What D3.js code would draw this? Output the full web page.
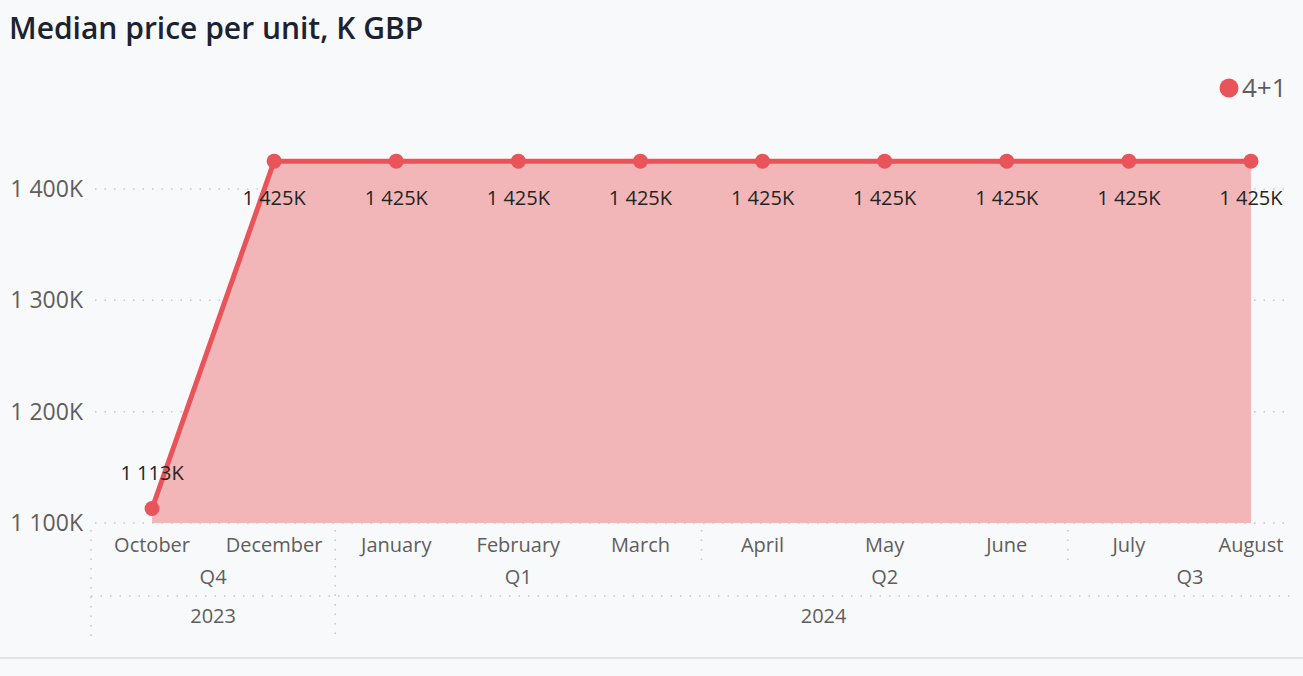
<!DOCTYPE html>
<html>
<head>
<meta charset="utf-8">
<script src="https://cdn.jsdelivr.net/npm/d3@7"></script>
<style>
  body { margin: 0; background: #f8f9fb; }
  svg { display: block; font-family: "Open Sans", "Noto Sans", sans-serif; }
</style>
</head>
<body>
<div id="chart"></div>
<script>
var months = ['October', 'December', 'January', 'February', 'March', 'April', 'May', 'June', 'July', 'August'];
var quarters = ['Q4', 'Q4', 'Q1', 'Q1', 'Q1', 'Q2', 'Q2', 'Q2', 'Q3', 'Q3'];
var years = ['2023', '2023', '2024', '2024', '2024', '2024', '2024', '2024', '2024', '2024'];
var prices = [1113, 1425, 1425, 1425, 1425, 1425, 1425, 1425, 1425, 1425];
var yTicks = [1100, 1200, 1300, 1400];
var seriesName = '4+1';

var width = 1303;
var height = 676;
var red = '#e9545a';
var grey = '#605e5c';

var svg = d3.select('#chart')
    .append('svg')
    .attr('width', width)
    .attr('height', height);

svg.append('rect')
    .attr('width', width)
    .attr('height', height)
    .attr('fill', '#f8f9fb');

svg.append('text')
    .attr('x', 9)
    .attr('y', 39)
    .attr('font-size', 30)
    .attr('font-weight', 600)
    .attr('fill', '#1b2230')
    .text('Median price per unit, K GBP');

var x = d3.scaleBand()
    .domain(months)
    .range([91, 1312]);

var y = d3.scaleLinear()
    .domain([1100, 1400])
    .range([523, 189]);

var fmt = function(v) { return '1 ' + String(v).slice(1) + 'K'; };

// gridlines
svg.selectAll('.grid')
    .data(yTicks)
    .enter()
    .append('line')
    .attr('x1', 95)
    .attr('x2', 1290)
    .attr('y1', function(d) { return y(d); })
    .attr('y2', function(d) { return y(d); })
    .attr('stroke', '#c8c6c4')
    .attr('stroke-width', 1.5)
    .attr('stroke-dasharray', '1.5,8');

// y axis labels
svg.selectAll('.ylab')
    .data(yTicks)
    .enter()
    .append('text')
    .attr('x', 83)
    .attr('y', function(d) { return y(d); })
    .attr('dy', '0.35em')
    .attr('text-anchor', 'end')
    .attr('font-size', 23)
    .attr('fill', grey)
    .text(fmt);

var cx = function(d, i) { return x(months[i]) + x.bandwidth() / 2; };

var area = d3.area()
    .x(cx)
    .y0(y(1100))
    .y1(function(d) { return y(d); });

svg.append('path')
    .datum(prices)
    .attr('d', area)
    .attr('fill', '#f3b6b8');

var line = d3.line()
    .x(cx)
    .y(function(d) { return y(d); });

svg.append('path')
    .datum(prices)
    .attr('d', line)
    .attr('fill', 'none')
    .attr('stroke', red)
    .attr('stroke-width', 5)
    .attr('stroke-linejoin', 'round');

svg.selectAll('.dot')
    .data(prices)
    .enter()
    .append('circle')
    .attr('cx', cx)
    .attr('cy', function(d) { return y(d); })
    .attr('r', 7.5)
    .attr('fill', red);

// data labels
svg.selectAll('.dlab')
    .data(prices)
    .enter()
    .append('text')
    .attr('x', cx)
    .attr('y', function(d, i) { return i === 0 ? y(d) - 36 : y(d) + 37; })
    .attr('dy', '0.35em')
    .attr('text-anchor', 'middle')
    .attr('font-size', 20)
    .attr('fill', '#252423')
    .text(fmt);

// month labels
svg.selectAll('.mlab')
    .data(months)
    .enter()
    .append('text')
    .attr('x', function(d) { return x(d) + x.bandwidth() / 2; })
    .attr('y', 545)
    .attr('dy', '0.35em')
    .attr('text-anchor', 'middle')
    .attr('font-size', 20)
    .attr('fill', grey)
    .text(function(d) { return d; });

// group spans for quarters and years
function groups(keys) {
    var out = [];
    keys.forEach(function(k, i) {
        var last = out[out.length - 1];
        if (last && last.key === k) last.end = i;
        else out.push({ key: k, start: i, end: i });
    });
    return out.map(function(g) {
        return { key: g.key, x0: x(months[g.start]), x1: x(months[g.end]) + x.bandwidth() };
    });
}

var qGroups = groups(quarters.map(function(q, i) { return years[i] + q; }));
var yGroups = groups(years);

var dotted = { stroke: '#c8c6c4', 'stroke-width': 1.5, 'stroke-dasharray': '1.5,8' };

function dline(x1, y1, x2, y2) {
    var l = svg.append('line')
        .attr('x1', x1).attr('y1', y1).attr('x2', x2).attr('y2', y2);
    for (var k in dotted) l.attr(k, dotted[k]);
}

qGroups.forEach(function(g, i) {
    svg.append('text')
        .attr('x', (g.x0 + g.x1) / 2)
        .attr('y', 577)
        .attr('dy', '0.35em')
        .attr('text-anchor', 'middle')
        .attr('font-size', 20)
        .attr('fill', grey)
        .text(g.key.slice(4));
    if (i > 0) dline(g.x0, 530, g.x0, 566);
});

dline(91, 530, 91, 637);
dline(91, 596, 1290, 596);

yGroups.forEach(function(g, i) {
    svg.append('text')
        .attr('x', (g.x0 + g.x1) / 2)
        .attr('y', 616)
        .attr('dy', '0.35em')
        .attr('text-anchor', 'middle')
        .attr('font-size', 20)
        .attr('fill', grey)
        .text(g.key);
    if (i > 0) dline(g.x0, 566, g.x0, 637);
});

// legend
svg.append('circle')
    .attr('cx', 1229)
    .attr('cy', 88)
    .attr('r', 9.5)
    .attr('fill', red);

svg.append('text')
    .attr('x', 1242)
    .attr('y', 88)
    .attr('dy', '0.35em')
    .attr('font-size', 26)
    .attr('fill', grey)
    .text(seriesName);

// bottom border
svg.append('line')
    .attr('x1', 0)
    .attr('x2', width)
    .attr('y1', 658)
    .attr('y2', 658)
    .attr('stroke', '#e3e3e3')
    .attr('stroke-width', 2);
</script>
</body>
</html>
